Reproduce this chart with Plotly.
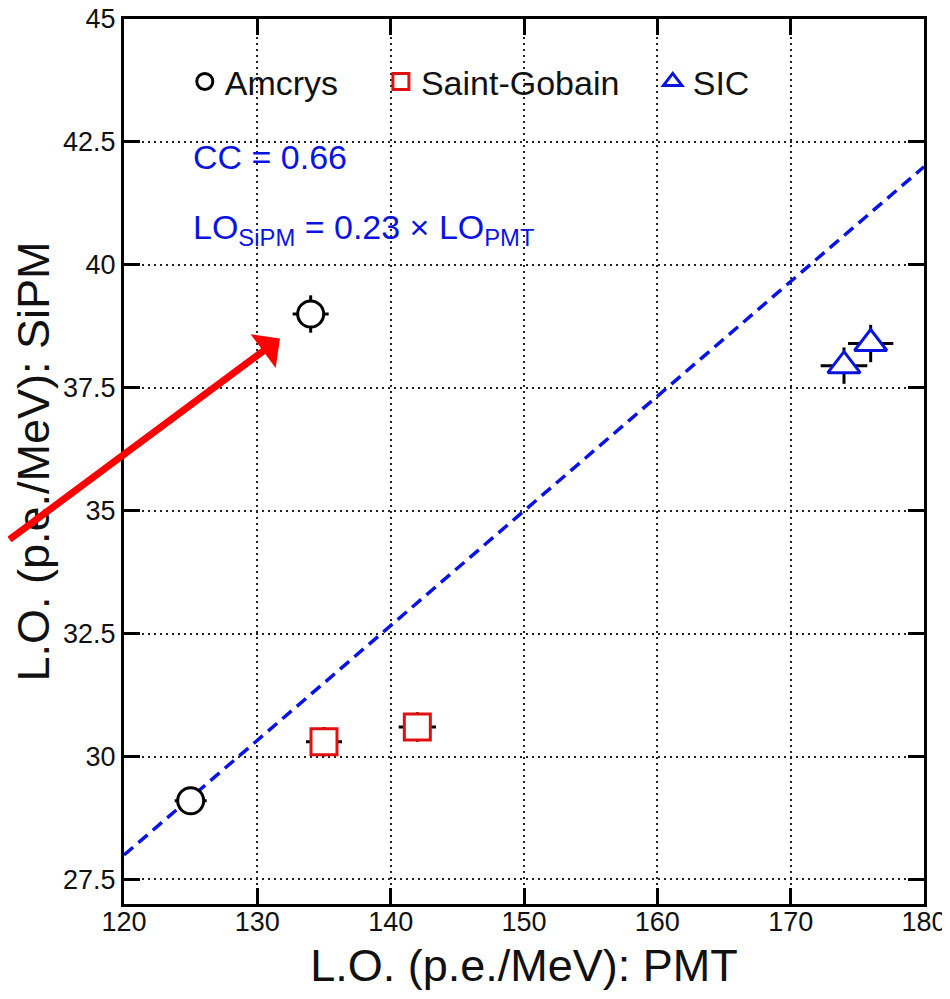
import plotly.graph_objects as go

# ---- data ----
amcrys_x = [125.0, 134.0]
amcrys_y = [29.1, 39.0]
amcrys_ex = [1.2, 1.35]
amcrys_ey = [0.2, 0.38]

sg_x = [135.0, 142.0]
sg_y = [30.3, 30.6]
sg_ex = [1.35, 1.4]
sg_ey = [0.3, 0.3]

sic_x = [174.0, 176.0]
sic_y = [37.95, 38.4]
sic_ex = [1.75, 1.7]
sic_ey = [0.37, 0.38]

fit_slope = 0.2333
fit_x = [120.0, 180.0]
fit_y = [fit_slope * v for v in fit_x]

x_ticks = [120, 130, 140, 150, 160, 170, 180]
y_ticks = [27.5, 30, 32.5, 35, 37.5, 40, 42.5, 45]
y_tick_text = ["27.5", "30", "32.5", "35", "37.5", "40", "42.5", "45"]

cc_text = "CC = 0.66"
fit_text = "LO<sub>SiPM</sub> = 0.23 × LO<sub>PMT</sub>"

arrow_head = (131.7, 38.5)

FONT = "Liberation Sans, Arial, Helvetica, sans-serif"
BLUE = "#0a14e0"
RED = "#e01010"
NB = "\u00a0"

fig = go.Figure()


def err(arr):
    return dict(type="data", array=arr, visible=True, color="black",
                thickness=3, width=0)


fig.add_trace(go.Scatter(
    x=fit_x, y=fit_y, mode="lines", showlegend=False,
    line=dict(color=BLUE, width=3.5, dash="12px,7px"), hoverinfo="skip"))

fig.add_trace(go.Scatter(
    x=amcrys_x, y=amcrys_y, mode="markers", name="Amcrys" + NB * 4,
    error_x=err(amcrys_ex), error_y=err(amcrys_ey),
    marker=dict(symbol="circle", size=26, color="white",
                line=dict(color="black", width=3))))

fig.add_trace(go.Scatter(
    x=sg_x, y=sg_y, mode="markers", name="Saint-Gobain" + NB * 3,
    error_x=err(sg_ex), error_y=err(sg_ey),
    marker=dict(symbol="square", size=26, color="white",
                line=dict(color=RED, width=3))))

fig.add_trace(go.Scatter(
    x=sic_x, y=sic_y, mode="markers", name="SIC",
    error_x=err(sic_ex), error_y=err(sic_ey),
    marker=dict(symbol="triangle-up", size=28, color="white",
                line=dict(color=BLUE, width=3))))

fig.add_annotation(x=125.0, y=42.19, xref="x", yref="y", text=cc_text,
                   showarrow=False, xanchor="left", yanchor="middle",
                   font=dict(family=FONT, size=34, color=BLUE))
fig.add_annotation(x=125.0, y=40.72, xref="x", yref="y", text=fit_text,
                   showarrow=False, xanchor="left", yanchor="middle",
                   font=dict(family=FONT, size=34, color=BLUE))

fig.add_annotation(x=arrow_head[0], y=arrow_head[1], xref="x", yref="y",
                   text="", showarrow=True, arrowhead=1, arrowsize=1,
                   arrowwidth=7, arrowcolor="#ff0000", ax=-290, ay=202)

axis_common = dict(
    showline=True, linecolor="black", linewidth=3, mirror="allticks",
    ticks="inside", ticklen=16, tickwidth=3, tickcolor="black",
    showgrid=True, gridcolor="#222", gridwidth=2, griddash="2px,4px",
    zeroline=False, tickfont=dict(family=FONT, size=27, color="#111"),
    ticklabeloverflow="allow",
)

fig.update_xaxes(range=[120, 180], tickvals=x_ticks, ticklabelstandoff=-8,
                 **axis_common,
                 title=dict(text="L.O. (p.e./MeV): PMT", standoff=14,
                            font=dict(family=FONT, size=45, color="#111")))
fig.update_yaxes(range=[27, 45], tickvals=y_ticks, ticktext=y_tick_text,
                 **axis_common,
                 title=dict(text="L.O. (p.e./MeV): SiPM", standoff=12,
                            font=dict(family=FONT, size=45, color="#111")))

# the page body adds an 8px offset; size/margins compensate for it
fig.update_layout(
    width=934, height=983,
    margin=dict(l=116, r=18, t=11, b=87, autoexpand=False),
    plot_bgcolor="white", paper_bgcolor="white",
    showlegend=True,
    legend=dict(orientation="h", x=0.076, y=0.929, xanchor="left",
                yanchor="middle", bgcolor="rgba(0,0,0,0)",
                font=dict(family=FONT, size=34, color="#111"),
                itemclick=False),
)

fig.write_html("out.html")
